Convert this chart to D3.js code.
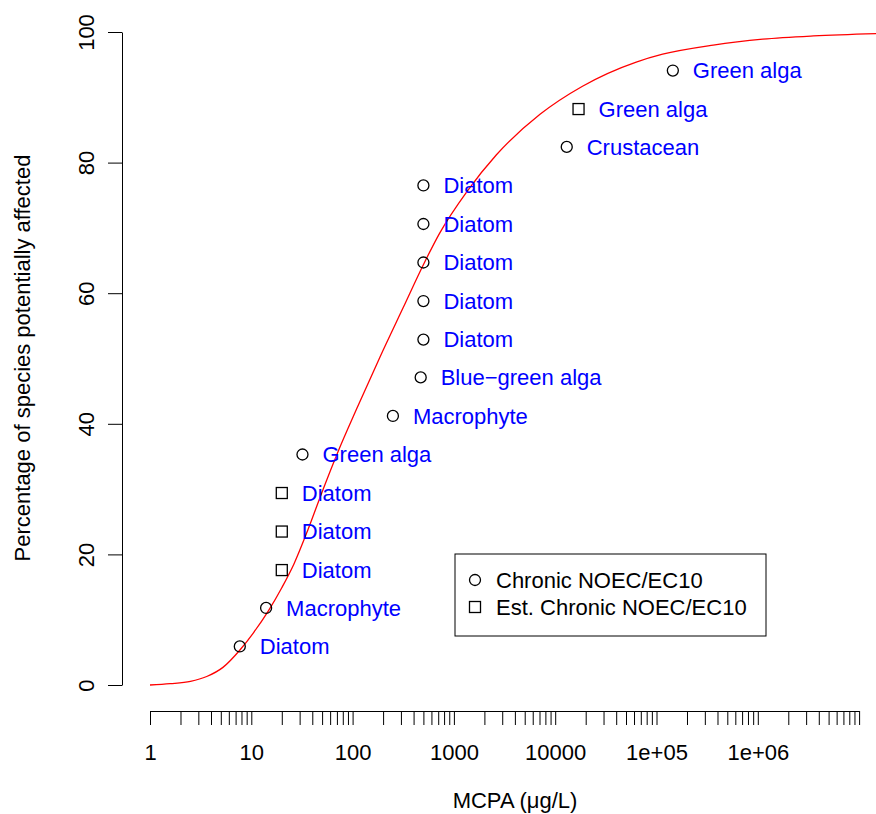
<!DOCTYPE html>
<html>
<head>
<meta charset="utf-8">
<script src="https://cdn.jsdelivr.net/npm/d3@7"></script>
<style>
  html, body { margin: 0; padding: 0; background: #fff; }
  svg { display: block; }
  text { font-family: "Liberation Sans", Arial, Helvetica, sans-serif; }
</style>
</head>
<body>
<svg id="chart" width="876" height="814"></svg>
<script>
// ---------------- data ----------------
const species = ["Diatom", "Macrophyte", "Diatom", "Diatom", "Diatom", "Green alga",
  "Macrophyte", "Blue\u2212green alga", "Diatom", "Diatom", "Diatom", "Diatom", "Diatom",
  "Crustacean", "Green alga", "Green alga"];
const concentration = [7.7, 14, 20, 20, 20, 32, 250, 470, 500, 500, 500, 500, 500, 13000, 17000, 145000];
const percentAffected = [5.9, 11.8, 17.6, 23.5, 29.4, 35.3, 41.2, 47.1, 52.9, 58.8, 64.7, 70.6, 76.5, 82.4, 88.2, 94.1];
const dataType = ["Chronic", "Chronic", "Est", "Est", "Est", "Chronic", "Chronic", "Chronic",
  "Chronic", "Chronic", "Chronic", "Chronic", "Chronic", "Chronic", "Est", "Chronic"];

// fitted SSD curve
const curveConc = [1, 1.58, 2.51, 3.63, 5.25, 7.76, 10.5, 14.8, 20, 26.3, 36.3, 50.1, 70.8,
  112, 186, 316, 501, 724, 1350, 2630, 7080, 18600, 63100, 115000, 363000, 1120000, 3550000, 14800000];
const curvePct = [0, 0.2, 0.55, 1.3, 2.7, 5.4, 8.0, 11.4, 14.9, 18.5, 23.8, 29.6, 35.5,
  42.6, 50.2, 57.8, 64.4, 69.2, 75.6, 81.2, 87.4, 91.7, 95.4, 96.6, 98.0, 98.9, 99.4, 99.75];

const yTicks = [0, 20, 40, 60, 80, 100];
const xMajorTicks = [1, 10, 100, 1000, 10000, 1e5, 1e6, 1e7];
const xTickLabels = ["1", "10", "100", "1000", "10000", "1e+05", "1e+06", ""];

const legendLabels = ["Chronic NOEC/EC10", "Est. Chronic NOEC/EC10"];
const legendTypes = ["Chronic", "Est"];

const yTitle = "Percentage of species potentially affected";
const xTitle = "MCPA (\u03BCg/L)";

// ---------------- layout ----------------
const svg = d3.select("#chart");
const FS = 22;
const plot = { left: 122, right: 877, top: 6, bottom: 711 };

const x = d3.scaleLog().domain([1, 1e7]).range([150, 150 + 101.3 * 7]);
const y = d3.scaleLinear().domain([0, 100]).range([685, 32]);

// clip region = plot area
svg.append("defs").append("clipPath").attr("id", "clip")
  .append("rect").attr("x", plot.left).attr("y", plot.top)
  .attr("width", plot.right - plot.left).attr("height", plot.bottom - plot.top);

// ---------------- axes ----------------
// minor + major x ticks
const xAllTicks = [];
for (let d = 0; d < 7; d++) {
  for (let m = 1; m <= 9; m++) xAllTicks.push(m * Math.pow(10, d));
}
xAllTicks.push(1e7);

const xAxis = d3.axisBottom(x)
  .tickValues(xAllTicks)
  .tickSize(14)
  .tickSizeOuter(0)
  .tickFormat(d => {
    const i = xMajorTicks.findIndex(v => Math.abs(v - d) / v < 1e-9);
    return i >= 0 ? xTickLabels[i] : "";
  });

const gx = svg.append("g").attr("transform", `translate(0,${plot.bottom})`).call(xAxis);
gx.select(".domain").attr("stroke", "#000").attr("stroke-width", 1);
gx.selectAll(".tick line").attr("stroke", "#000").attr("stroke-width", 1);
gx.selectAll(".tick text")
  .attr("font-size", FS).attr("fill", "#000")
  .attr("font-family", '"Liberation Sans", Arial, sans-serif')
  .attr("dy", null).attr("y", 49);

const yAxis = d3.axisLeft(y).tickValues(yTicks).tickSize(14).tickSizeOuter(0).tickFormat(d3.format("d"));
const gy = svg.append("g").attr("transform", `translate(${plot.left},0)`).call(yAxis);
gy.select(".domain").attr("stroke", "#000").attr("stroke-width", 1);
gy.selectAll(".tick line").attr("stroke", "#000").attr("stroke-width", 1);
gy.selectAll(".tick text")
  .attr("font-size", FS).attr("fill", "#000")
  .attr("font-family", '"Liberation Sans", Arial, sans-serif')
  .attr("x", null).attr("dy", null)
  .attr("text-anchor", "middle")
  .attr("transform", "translate(-28,0) rotate(-90)");

// axis titles
svg.append("text")
  .attr("transform", `translate(30,358) rotate(-90)`)
  .attr("text-anchor", "middle")
  .attr("font-size", FS)
  .text(yTitle);

svg.append("text")
  .attr("x", 515).attr("y", 808)
  .attr("text-anchor", "middle")
  .attr("font-size", FS)
  .text(xTitle);

// ---------------- curve ----------------
const curveData = curveConc.map((c, i) => ({ c, p: curvePct[i] }));
svg.append("path")
  .datum(curveData)
  .attr("clip-path", "url(#clip)")
  .attr("fill", "none")
  .attr("stroke", "#FF0000")
  .attr("stroke-width", 1.3)
  .attr("d", d3.line().x(d => x(d.c)).y(d => y(d.p)).curve(d3.curveMonotoneX));

// ---------------- points ----------------
const pts = species.map((s, i) => ({ s, c: concentration[i], p: percentAffected[i], t: dataType[i] }));

function drawSymbol(g, t, cx, cy) {
  if (t === "Chronic") {
    g.append("circle").attr("cx", cx).attr("cy", cy).attr("r", 5.5)
      .attr("fill", "none").attr("stroke", "#000").attr("stroke-width", 1.3);
  } else {
    g.append("rect").attr("x", cx - 5.5).attr("y", cy - 5.5).attr("width", 11).attr("height", 11)
      .attr("fill", "none").attr("stroke", "#000").attr("stroke-width", 1.3);
  }
}

const gp = svg.append("g");
pts.forEach(d => {
  drawSymbol(gp, d.t, x(d.c), y(d.p));
  gp.append("text")
    .attr("x", x(d.c) + 20)
    .attr("y", y(d.p))
    .attr("dy", "0.36em")
    .attr("font-size", FS)
    .attr("fill", "#0000FF")
    .text(d.s);
});

// ---------------- legend ----------------
const lg = svg.append("g");
lg.append("rect").attr("x", 455).attr("y", 554).attr("width", 311).attr("height", 82)
  .attr("fill", "#fff").attr("stroke", "#000").attr("stroke-width", 1);
legendLabels.forEach((lab, i) => {
  const cy = 580 + i * 27;
  drawSymbol(lg, legendTypes[i], 475, cy);
  lg.append("text").attr("x", 496).attr("y", cy).attr("dy", "0.36em")
    .attr("font-size", FS).attr("fill", "#000").text(lab);
});
</script>
</body>
</html>
